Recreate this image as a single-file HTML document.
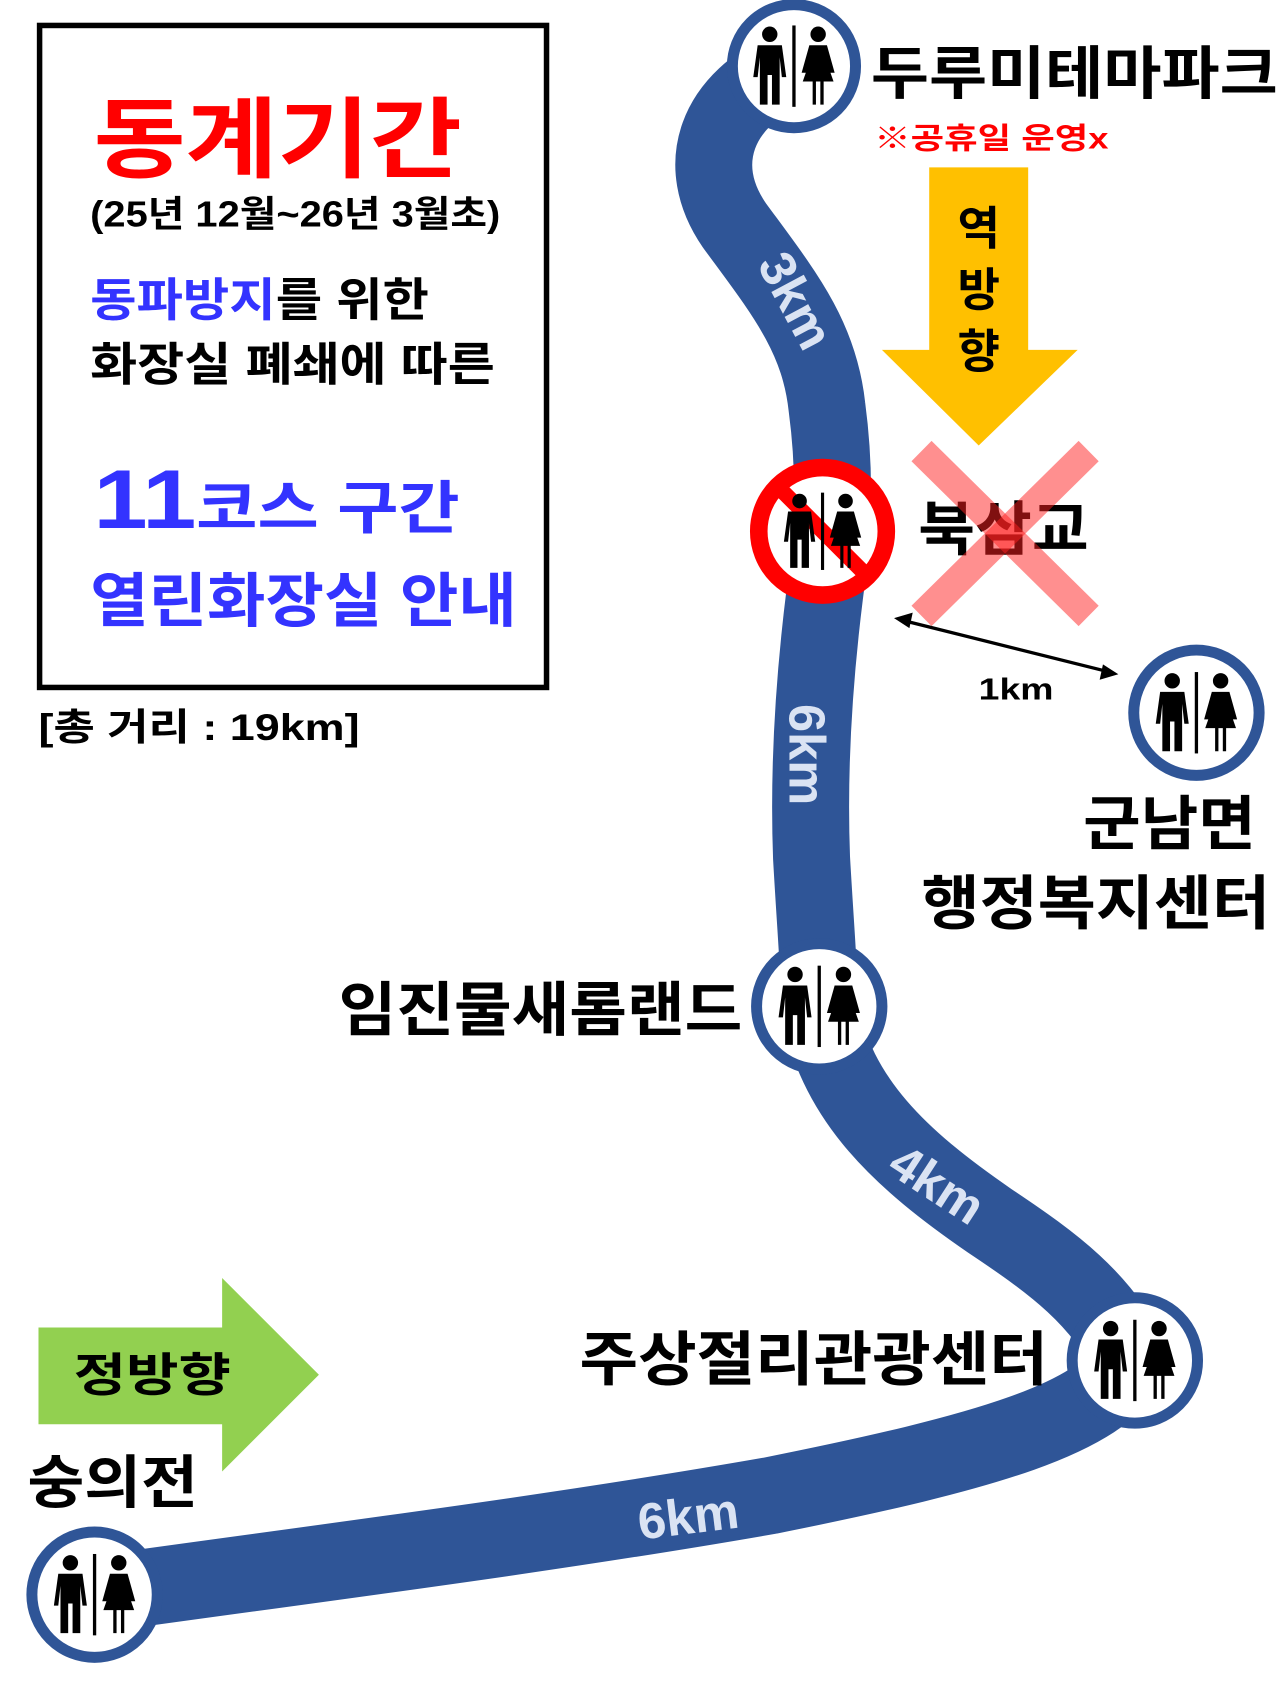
<!DOCTYPE html>
<html><head><meta charset="utf-8"><style>
html,body{margin:0;padding:0;background:#fff;}
svg{display:block;}
text{font-family:"Liberation Sans","Noto Sans CJK KR",sans-serif;font-weight:bold;}
</style></head><body>
<svg width="1280" height="1707" viewBox="0 0 1164 1552" xmlns="http://www.w3.org/2000/svg">
<defs>
<g id="wc">
 <circle cx="-22" cy="-29" r="7" fill="#000"/>
 <path d="M-33,-19 H-11 L-7,10 H-11 L-13,-8 V35 H-20 V8 H-24 V35 H-31 V-8 L-33,10 H-37 Z" fill="#000"/>
 <rect x="-1.5" y="-37" width="3" height="74" fill="#000"/>
 <circle cx="22" cy="-29" r="7" fill="#000"/>
 <path d="M14,-19 H30 L37,6 H33 L29,-6 L36,14 H27 V35 H24 V14 H20 V35 H17 V14 H8 L15,-6 L11,6 H7 Z" fill="#000"/>
</g>
</defs>
<rect width="1164" height="1552" fill="#fff"/>

<path d="M722,60 C650,90 630,150 668,205 C712,265 745,305 752,370 C760,430 758,480 750,540 C740,620 735,700 738,780 C742,850 745,880 745,915 C760,1000 820,1055 900,1110 C960,1150 1000,1180 1030,1237 C1000,1290 900,1320 700,1360 C500,1395 300,1420 85,1450" fill="none" stroke="#2f5597" stroke-width="70" stroke-linecap="round"/>

<g fill="#dae3f3" font-size="46">
<text transform="translate(688,240) rotate(62)" font-family="Liberation Sans,sans-serif">3km</text>
<text transform="translate(718,640) rotate(90)" font-family="Liberation Sans,sans-serif">6km</text>
<text transform="translate(805,1065) rotate(33)" font-family="Liberation Sans,sans-serif">4km</text>
<text transform="translate(582,1400) rotate(-7)" font-family="Liberation Sans,sans-serif">6km</text>
</g>

<rect x="36" y="23" width="461" height="602" fill="#fff" stroke="#000" stroke-width="5"/>
<text x="85" y="155" font-size="80" fill="#ff0000" textLength="335" lengthAdjust="spacingAndGlyphs">동계기간</text>
<text x="82" y="206" font-size="33" fill="#000" textLength="373" lengthAdjust="spacingAndGlyphs">(25년 12월~26년 3월초)</text>
<text x="82" y="287" font-size="42" textLength="308" lengthAdjust="spacingAndGlyphs"><tspan fill="#3333ff">동파방지</tspan><tspan fill="#000">를 위한</tspan></text>
<text x="82" y="346" font-size="42" fill="#000" textLength="368" lengthAdjust="spacingAndGlyphs">화장실 폐쇄에 따른</text>
<text x="85" y="480" fill="#3333ff" textLength="333" lengthAdjust="spacingAndGlyphs"><tspan font-size="76" font-family="Liberation Sans,sans-serif">11</tspan><tspan font-size="52">코스 구간</tspan></text>
<text x="82" y="565" font-size="54" fill="#3333ff" textLength="388" lengthAdjust="spacingAndGlyphs">열린화장실 안내</text>
<text x="35" y="673" font-size="34" fill="#000" textLength="292" lengthAdjust="spacingAndGlyphs">[총 거리 : 19km]</text>

<path d="M845,152 H935 V318 H980 L890,405 L802,318 H845 Z" fill="#ffc000"/>
<text x="890" y="222" font-size="42" text-anchor="middle" fill="#000">역</text>
<text x="890" y="278" font-size="42" text-anchor="middle" fill="#000">방</text>
<text x="890" y="334" font-size="42" text-anchor="middle" fill="#000">향</text>

<text x="835" y="500" font-size="54" fill="#000" textLength="155" lengthAdjust="spacingAndGlyphs">북삼교</text>
<g stroke="#ff2020" stroke-opacity="0.5" stroke-width="26">
<line x1="838" y1="410" x2="990" y2="560"/>
<line x1="990" y1="410" x2="838" y2="560"/>
</g>

<line x1="825" y1="565" x2="1005" y2="610" stroke="#000" stroke-width="3"/>
<path d="M813,562 L830,557 L827,571 Z" fill="#000"/>
<path d="M1017,613 L1000,618 L1003,604 Z" fill="#000"/>
<text x="890" y="636" font-size="28" fill="#000" font-family="Liberation Sans,sans-serif" textLength="68" lengthAdjust="spacingAndGlyphs">1km</text>

<g>
<circle cx="722" cy="60" r="56" fill="#fff" stroke="#2f5597" stroke-width="10"/>
<use href="#wc" x="722" y="60"/>
<circle cx="1088" cy="648" r="57" fill="#fff" stroke="#2f5597" stroke-width="10"/>
<use href="#wc" x="1088" y="648"/>
<circle cx="745" cy="915" r="57" fill="#fff" stroke="#2f5597" stroke-width="10"/>
<use href="#wc" x="745" y="915"/>
<circle cx="1032" cy="1237" r="57" fill="#fff" stroke="#2f5597" stroke-width="10"/>
<use href="#wc" x="1032" y="1237"/>
<circle cx="86" cy="1450" r="57" fill="#fff" stroke="#2f5597" stroke-width="10"/>
<use href="#wc" x="86" y="1450"/>
<circle cx="748" cy="483" r="58" fill="#fff" stroke="#ff0000" stroke-width="16"/>
<line x1="709" y1="444" x2="787" y2="522" stroke="#ff0000" stroke-width="14"/>
<use href="#wc" transform="translate(748,483) scale(0.95)"/>
</g>

<text x="792" y="85" font-size="52" fill="#000" textLength="370" lengthAdjust="spacingAndGlyphs">두루미테마파크</text>
<text x="795" y="135" font-size="27" fill="#ff0000" textLength="213" lengthAdjust="spacingAndGlyphs">※공휴일 운영x</text>
<text x="985" y="768" font-size="54" fill="#000" textLength="157" lengthAdjust="spacingAndGlyphs">군남면</text>
<text x="838" y="840" font-size="54" fill="#000" textLength="317" lengthAdjust="spacingAndGlyphs">행정복지센터</text>
<text x="308" y="937" font-size="54" fill="#000" textLength="367" lengthAdjust="spacingAndGlyphs">임진물새롬랜드</text>
<text x="527" y="1255" font-size="54" fill="#000" textLength="426" lengthAdjust="spacingAndGlyphs">주상절리관광센터</text>

<path d="M35,1207 H202 V1162 L290,1250 L202,1338 V1295 H35 Z" fill="#92d050"/>
<text x="67" y="1265" font-size="42" fill="#000" textLength="143" lengthAdjust="spacingAndGlyphs">정방향</text>
<text x="25" y="1366" font-size="52" fill="#000" textLength="155" lengthAdjust="spacingAndGlyphs">숭의전</text>
</svg>
</body></html>
